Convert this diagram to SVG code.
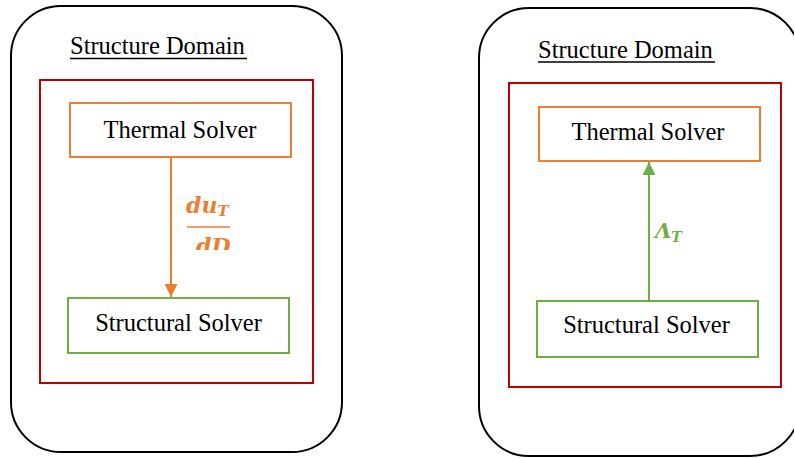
<svg xmlns="http://www.w3.org/2000/svg" width="794" height="458" viewBox="0 0 794 458">
  <style>
    .domain { fill: none; stroke: #000; stroke-width: 2; }
    .region { fill: none; stroke: #C00000; stroke-width: 2; }
    .thermal { fill: #fff; stroke: #ED7D31; stroke-width: 2; }
    .structural { fill: #fff; stroke: #70AD47; stroke-width: 2; }
    .title { font-family: "Liberation Serif", "Times New Roman", serif; font-size: 24.5px; fill: #000; }
    .label { font-family: "Liberation Serif", "Times New Roman", serif; font-size: 24.5px; fill: #000; text-anchor: middle; }
    .math { font-family: "DejaVu Serif", "Liberation Serif", serif; font-weight: bold; font-style: italic; }
  </style>
  <defs>
    <marker id="ahO" markerWidth="14" markerHeight="13" refX="13" refY="6.5" orient="auto" markerUnits="userSpaceOnUse">
      <path d="M0,0 L13,6.5 L0,13 Z" fill="#ED7D31"/>
    </marker>
    <marker id="ahG" markerWidth="14" markerHeight="13" refX="13" refY="6.5" orient="auto" markerUnits="userSpaceOnUse">
      <path d="M0,0 L13,6.5 L0,13 Z" fill="#70AD47"/>
    </marker>
    <clipPath id="clipFrac">
      <rect x="180" y="190" width="70" height="60"/>
    </clipPath>
  </defs>

  <g id="left-domain">
    <rect class="domain" x="11" y="6" width="331" height="446" rx="50" ry="50"/>
    <text class="title" x="70" y="54">Structure Domain</text>
    <line x1="70" y1="58.5" x2="247" y2="58.5" stroke="#000" stroke-width="1.5"/>
    <rect class="region" x="40" y="80" width="273" height="303"/>
  </g>
  <g id="left-thermal">
    <rect class="thermal" x="70" y="103" width="221" height="54"/>
    <text class="label" x="180" y="138">Thermal Solver</text>
  </g>
  <g id="left-structural">
    <rect class="structural" x="68" y="298" width="221" height="55"/>
    <text class="label" x="178.5" y="331">Structural Solver</text>
  </g>

  <g id="right-domain">
    <rect class="domain" x="479" y="8" width="321" height="448" rx="50" ry="50"/>
    <text class="title" x="538" y="58">Structure Domain</text>
    <line x1="538" y1="62" x2="715" y2="62" stroke="#000" stroke-width="1.5"/>
    <rect class="region" x="509" y="83" width="272" height="304"/>
  </g>
  <g id="right-thermal">
    <rect class="thermal" x="539" y="107" width="221" height="54"/>
    <text class="label" x="648" y="140">Thermal Solver</text>
  </g>
  <g id="right-structural">
    <rect class="structural" x="537" y="301" width="221" height="56"/>
    <text class="label" x="646.5" y="333">Structural Solver</text>
  </g>

  <g id="connectors">
    <line x1="171" y1="158" x2="171" y2="297" stroke="#ED7D31" stroke-width="2" marker-end="url(#ahO)"/>
    <g clip-path="url(#clipFrac)" fill="#ED7D31" class="math">
      <text x="186" y="213" font-size="22">du<tspan font-size="15" dy="3">T</tspan></text>
      <line x1="187" y1="227" x2="230" y2="227" stroke="#ED7D31" stroke-width="1.5"/>
      <text x="196" y="254" font-size="22">dD</text>
    </g>
    <line x1="649" y1="300" x2="649" y2="162" stroke="#70AD47" stroke-width="2" marker-end="url(#ahG)"/>
    <text class="math" x="655" y="238" font-size="21" fill="#70AD47">Λ<tspan font-size="14" dy="4">T</tspan></text>
  </g>
</svg>
